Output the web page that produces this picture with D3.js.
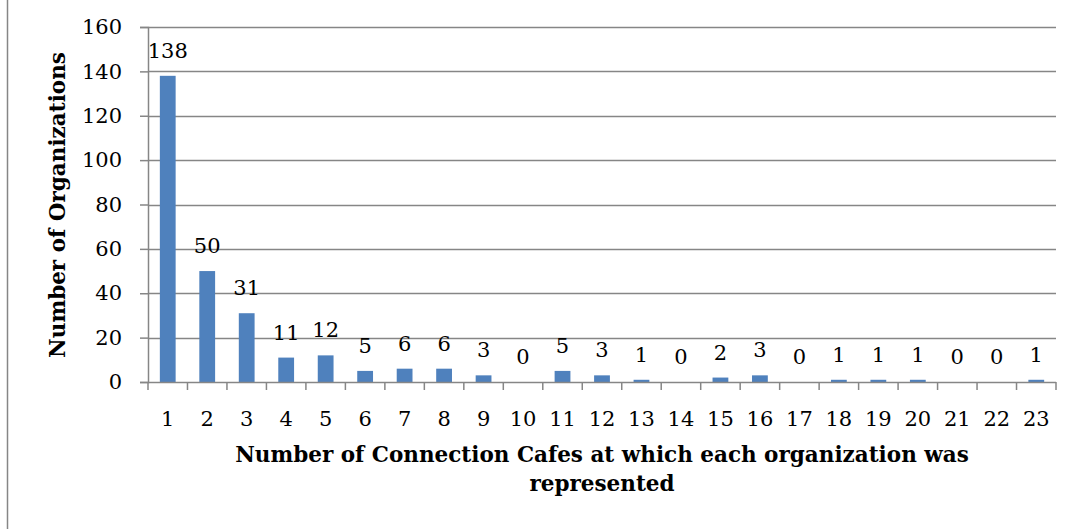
<!DOCTYPE html>
<html>
<head>
<meta charset="utf-8">
<script src="https://cdn.jsdelivr.net/npm/d3@7"></script>
<style>
  html, body { margin: 0; padding: 0; background: #fff; }
  svg { display: block; }
  text { font-family: "DejaVu Serif", serif; fill: #000; }
</style>
</head>
<body>
<svg id="chart" width="1072" height="529"></svg>
<script>
// Number of Connection Cafes each organization attended, and how many organizations did so
const cafes = ["1","2","3","4","5","6","7","8","9","10","11","12","13","14","15","16","17","18","19","20","21","22","23"];
const organizations = [138, 50, 31, 11, 12, 5, 6, 6, 3, 0, 5, 3, 1, 0, 2, 3, 0, 1, 1, 1, 0, 0, 1];
const yTicks = [0, 20, 40, 60, 80, 100, 120, 140, 160];
const xTitleLines = ["Number of Connection Cafes at which each organization was", "represented"];
const yTitle = "Number of Organizations";

const FONT = "'DejaVu Serif', serif";
const svg = d3.select("#chart");
const margin = { left: 148, right: 16, top: 27, bottom: 147 };
const W = 1072, H = 529;
const plotW = W - margin.left - margin.right;
const plotH = H - margin.top - margin.bottom;

// outer chart frame (left edge)
svg.append("line")
  .attr("x1", 7.5).attr("x2", 7.5).attr("y1", 0).attr("y2", H)
  .attr("stroke", "#868686").attr("stroke-width", 1.5);

const g = svg.append("g").attr("transform", `translate(${margin.left},${margin.top})`);

const x = d3.scaleBand().domain(cafes).range([0, plotW]).paddingInner(0.6).paddingOuter(0.3);
const xb = d3.scaleLinear().domain([0, cafes.length]).range([0, plotW]);
const y = d3.scaleLinear().domain([0, 160]).range([plotH, 0]);

// horizontal gridlines
g.append("g").selectAll("line").data(yTicks.filter(d => d > 0)).join("line")
  .attr("x1", 0).attr("x2", plotW)
  .attr("y1", d => Math.round(y(d)) + 0.5).attr("y2", d => Math.round(y(d)) + 0.5)
  .attr("stroke", "#868686").attr("stroke-width", 1.5);

// y axis
const yAxis = g.append("g")
  .call(d3.axisLeft(y).tickValues(yTicks).tickSize(8).tickPadding(18).tickFormat(d3.format("d")));
yAxis.attr("font-family", FONT).attr("font-size", 21);
yAxis.select(".domain").attr("stroke", "#868686").attr("stroke-width", 1.5);
yAxis.selectAll(".tick line").attr("stroke", "#868686").attr("stroke-width", 1.5);
yAxis.selectAll(".tick text").attr("fill", "#000");

// bars
g.append("g").selectAll("rect").data(cafes).join("rect")
  .attr("x", d => x(d))
  .attr("width", x.bandwidth())
  .attr("y", (d, i) => y(organizations[i]))
  .attr("height", (d, i) => plotH - y(organizations[i]))
  .attr("fill", "#4f81bd");

// x axis baseline and category boundary ticks
g.append("line")
  .attr("x1", 0).attr("x2", plotW).attr("y1", plotH + 0.5).attr("y2", plotH + 0.5)
  .attr("stroke", "#868686").attr("stroke-width", 1.5);
g.append("g").selectAll("line").data(d3.range(cafes.length + 1)).join("line")
  .attr("x1", d => xb(d)).attr("x2", d => xb(d))
  .attr("y1", plotH).attr("y2", plotH + 8)
  .attr("stroke", "#868686").attr("stroke-width", 1.5);

// category labels
g.append("g").selectAll("text").data(cafes).join("text")
  .attr("x", d => x(d) + x.bandwidth() / 2)
  .attr("y", plotH + 44)
  .attr("text-anchor", "middle")
  .style("font-size", "21px")
  .text(d => d);

// value labels
g.append("g").selectAll("text").data(cafes).join("text")
  .attr("x", d => x(d) + x.bandwidth() / 2)
  .attr("y", (d, i) => y(organizations[i]) - 18)
  .attr("text-anchor", "middle")
  .style("font-size", "21px")
  .text((d, i) => organizations[i]);

// x axis title
svg.append("text")
  .attr("x", margin.left + plotW / 2)
  .attr("y", 462)
  .attr("text-anchor", "middle")
  .style("font-size", "21.5px")
  .style("font-weight", "bold")
  .selectAll("tspan").data(xTitleLines).join("tspan")
  .attr("x", margin.left + plotW / 2)
  .attr("dy", (d, i) => i === 0 ? 0 : 29)
  .text(d => d);

// y axis title
svg.append("text")
  .attr("transform", "translate(65,205) rotate(-90)")
  .attr("text-anchor", "middle")
  .style("font-size", "21.5px")
  .style("font-weight", "bold")
  .text(yTitle);
</script>
</body>
</html>
